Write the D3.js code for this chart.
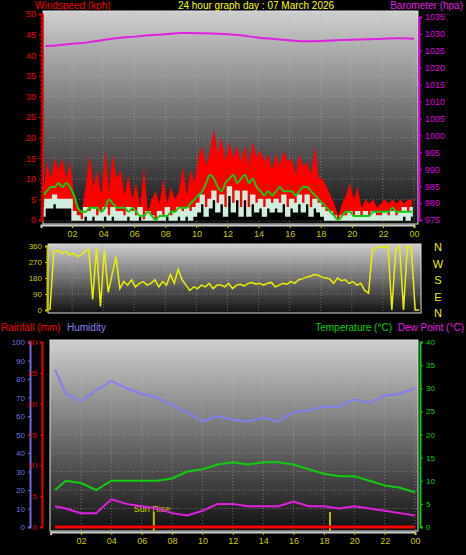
<!DOCTYPE html>
<html><head><meta charset="utf-8">
<script src="https://cdn.jsdelivr.net/npm/d3@7"></script>
<style>body{margin:0;background:#000}svg{display:block;font-family:"Liberation Sans",Arial,sans-serif}</style>
</head><body><div id="chart"></div>
<script>
var w = 466, h = 555;

// 15-minute samples, 0:00 .. 23:45
var gust = [5,14,10,15,12,15,10,14, 6,3,2,8, 16,8,12,6, 17,7,16,10, 12,6,11,5, 9,3,13,2, 5,7,4,10, 4,8,5,7,
  13,6,12,9, 15,18,13,17, 22,16,20,14, 19,15,18,14, 18,13,19,15, 17,14,16,12, 16,13,17,14, 15,11,16,13,
  14,11,18,10, 10,8,6,4, 1,4,6,9, 5,8,3,5, 4,5,3,4, 5,4,5,4, 5,4,5,5];
var speed = [3,5,5,6,5,5,5,5, 2,1,0,3, 2,3,1,2, 3,1,3,2, 2,1,3,2, 1,3,0,2, 1,0,2,1, 3,1,2,3, 2,3,2,3,
  4,6,3,5, 7,4,6,3, 8,4,7,3, 7,3,6,4, 5,3,5,4, 5,4,6,3, 5,4,6,4, 6,3,5,4, 3,2,2,1, 0,1,1,2, 1,2,1,2,
  1,2,1,1, 2,1,2,1, 2,3,2,3];
var avgWind = [6,7,8,8,9,8,9,8, 6,3,2,2, 3,3,3,2, 3,5,4,3, 3,3,2,3, 2,1,1,2, 1,0,1,1, 1,2,2,3, 3,3,4,5,
  6,7,9,11, 10,8,7,9, 10,11,9,10, 11,9,10,8, 7,6,7,6, 7,8,7,7, 7,6,7,8, 8,7,6,5, 4,3,2,1, 0,1,2,2,
  1,1,1,1, 1,2,2,2, 2,2,3,2, 2,2,2,2];
var direction = [0,330,335,320,330,310,320,300, 310,330,340,60, 350,20,340,100, 200,300,120,160,
  140,170,130,150, 160,140,150,170, 130,160,140,200, 150,230,170,140, 110,130,120,140, 130,150,120,140,
  140,130,150,120, 140,145,135,150, 155,145,150,140, 150,155,130,140, 150,145,160,150, 170,175,185,190,
  200,195,185,180, 175,150,180,165, 170,150,160,140, 150,110,95,340, 350,355,350,360, 0,340,360,0,
  360,350,0,0];

// hourly samples
var hours = [0.3,1,2,3,4,5,6,7,8,9,10,11,12,13,14,15,16,17,18,19,20,21,22,23,24];
var barometer = [1026.4,1026.6,1027.1,1027.5,1028.2,1028.8,1029.2,1029.6,1029.9,1030.3,1030.2,1030.1,1029.9,1029.5,1028.9,1028.5,1028.1,1027.8,1027.9,1028.1,1028.3,1028.4,1028.6,1028.7,1028.6];
var humidity = [85,72,68,74,79,75,72,70,66,62,57,60,58,57,59,57,62,63,65,65,69,67,71,72,75];
var temperature = [8,10,9.5,8,10,10,10,10,10.5,12,12.5,13.5,14,13.5,14,14,13.5,12.5,11.5,11,11,10,9,8.5,7.5];
var dewPoint = [4.5,4,3,3,6,5,4.5,4,3,2.5,3.5,5,5,4.5,4.5,4.5,5.5,4.5,4.5,4,4.5,4,3.5,3,2.5];
var sunTimes = [6.8, 18.4];
var timeTicks = [2,4,6,8,10,12,14,16,18,20,22,24];

var svg = d3.select("#chart").append("svg").attr("width", w).attr("height", h);
var defs = svg.append("defs");
var grad = defs.append("linearGradient").attr("id", "bg").attr("x1", 0).attr("y1", 0).attr("x2", 0).attr("y2", 1);
grad.append("stop").attr("offset", "0%").attr("stop-color", "#cfcfcf");
grad.append("stop").attr("offset", "100%").attr("stop-color", "#111");

var fmtH = (d) => d3.format("02")(d % 24);
var qTime = (d, i) => i * 0.25 + 0.125;

function panel(x0, x1, y0, y1) {
  svg.append("rect").attr("x", x0).attr("y", y0).attr("width", x1 - x0).attr("height", y1 - y0)
    .attr("fill", "url(#bg)").attr("stroke", "#ddd").attr("stroke-width", 1);
}
function grid(xs, ys, x0, x1, y0, y1) {
  var g = svg.append("g").attr("stroke", "#bbb").attr("stroke-opacity", 0.45).attr("stroke-dasharray", "1,2");
  xs.forEach((x) => g.append("line").attr("x1", x).attr("x2", x).attr("y1", y0).attr("y2", y1));
  ys.forEach((y) => g.append("line").attr("x1", x0).attr("x2", x1).attr("y1", y).attr("y2", y));
}
function styleAxis(g, color, size) {
  g.select(".domain").attr("stroke", color).attr("stroke-width", 2);
  g.selectAll("line").attr("stroke", color);
  g.selectAll("text").attr("fill", color).attr("font-size", size || 9);
}

// ---------- Top: wind + barometer
var xT = d3.scaleLinear().domain([0, 24]).range([41, 414]);
var yW = d3.scaleLinear().domain([0, 50]).range([220, 14]);
var yB = d3.scaleLinear().domain([975, 1035]).range([220, 17]);

panel(43, 418, 11, 224);
grid(timeTicks.map(xT), d3.range(5, 50, 5).map(yW), 43, 418, 11, 224);

svg.append("path").datum(gust)
  .attr("d", d3.area().x((d, i) => xT(qTime(d, i))).y0(yW(0)).y1((d) => yW(d)))
  .attr("fill", "#f00");
svg.append("path").datum(speed)
  .attr("d", d3.area().x((d, i) => xT(qTime(d, i))).y0(yW(0)).y1((d) => yW(Math.max(0, d - 2))).curve(d3.curveStep))
  .attr("fill", "#000");
svg.append("path").datum(speed)
  .attr("d", d3.area().x((d, i) => xT(qTime(d, i))).y0((d) => yW(Math.max(0, d - 2))).y1((d) => yW(d)).curve(d3.curveStep))
  .attr("fill", "#cfeedd").attr("stroke", "#cfeedd").attr("stroke-width", 1.5);
svg.append("path").datum(avgWind)
  .attr("d", d3.line().x((d, i) => xT(qTime(d, i))).y((d) => yW(d)).curve(d3.curveMonotoneX))
  .attr("fill", "none").attr("stroke", "#1c1").attr("stroke-width", 2);
svg.append("path").datum(barometer)
  .attr("d", d3.line().x((d, i) => xT(hours[i])).y((d) => yB(d)).curve(d3.curveMonotoneX))
  .attr("fill", "none").attr("stroke", "#e020e0").attr("stroke-width", 2);

var gl = svg.append("g").attr("transform", "translate(42,0)")
  .call(d3.axisLeft(yW).tickValues(d3.range(0, 51, 5)).tickSize(3));
styleAxis(gl, "#e00");
svg.append("g").attr("transform", "translate(42,0)")
  .call(d3.axisLeft(yW).ticks(50).tickSize(2).tickFormat(""))
  .call((g) => styleAxis(g, "#c00"));
var gr = svg.append("g").attr("transform", "translate(419,0)")
  .call(d3.axisRight(yB).tickValues(d3.range(975, 1036, 5)).tickSize(3).tickFormat(d3.format("d")));
styleAxis(gr, "#d0d");
var gx = svg.append("g").attr("transform", "translate(0,225)")
  .call(d3.axisBottom(xT).tickValues(timeTicks).tickSize(3).tickFormat(fmtH));
styleAxis(gx, "#cc0");
gx.select(".domain").attr("stroke", "#ccc");

svg.append("text").attr("x", 35).attr("y", 9).attr("fill", "#e00").attr("font-size", 10).text("Windspeed (kph)");
svg.append("text").attr("x", 256).attr("y", 9).attr("text-anchor", "middle").attr("fill", "#ff0").attr("font-size", 10)
  .text("24 hour graph day : 07 March 2026");
svg.append("text").attr("x", 463).attr("y", 9).attr("text-anchor", "end").attr("fill", "#e020e0").attr("font-size", 10).text("Barometer (hpa)");

// ---------- Middle: wind direction
var xD = d3.scaleLinear().domain([0, 24]).range([48, 421]);
var yD = d3.scaleLinear().domain([0, 360]).range([310, 246]);
panel(48, 421, 244, 313);
grid(timeTicks.map(xT), [90, 180, 270].map(yD), 48, 421, 244, 313);
svg.append("path").datum(direction)
  .attr("d", d3.line().x((d, i) => xD(qTime(d, i))).y((d) => yD(d)))
  .attr("fill", "none").attr("stroke", "#ee0").attr("stroke-width", 1.5);
var gd = svg.append("g").attr("transform", "translate(47,0)")
  .call(d3.axisLeft(yD).tickValues([0, 90, 180, 270, 360]).tickSize(2));
styleAxis(gd, "#cc0", 8);
["N", "W", "S", "E", "N"].forEach((t, i) => {
  svg.append("text").attr("x", 438).attr("y", 251 + i * 16.5).attr("text-anchor", "middle")
    .attr("fill", "#ee0").attr("font-size", 11).text(t);
});

// ---------- Bottom: temperature, humidity, rain
var xB = d3.scaleLinear().domain([0, 24]).range([50.6, 415]);
var yH = d3.scaleLinear().domain([0, 100]).range([527, 342]);
var yR = d3.scaleLinear().domain([0, 30]).range([527, 342]);
var yTmp = d3.scaleLinear().domain([0, 40]).range([527, 342]);
panel(50, 418, 340, 531);
grid(timeTicks.map(xB), d3.range(10, 100, 10).map(yH), 50, 418, 340, 531);

sunTimes.forEach((t) => {
  svg.append("line").attr("x1", xB(t)).attr("x2", xB(t)).attr("y1", 512).attr("y2", 531)
    .attr("stroke", "#bb0").attr("stroke-width", 2);
});
svg.append("text").attr("x", xB(sunTimes[0]) - 20).attr("y", 512).attr("fill", "#cc0").attr("font-size", 9).text("Sun Rise");

svg.append("path").datum(humidity)
  .attr("d", d3.line().x((d, i) => xB(hours[i])).y((d) => yH(d)))
  .attr("fill", "none").attr("stroke", "#8080f0").attr("stroke-width", 2);
svg.append("path").datum(temperature)
  .attr("d", d3.line().x((d, i) => xB(hours[i])).y((d) => yTmp(d)))
  .attr("fill", "none").attr("stroke", "#1c1").attr("stroke-width", 2);
svg.append("path").datum(dewPoint)
  .attr("d", d3.line().x((d, i) => xB(hours[i])).y((d) => yTmp(d)))
  .attr("fill", "none").attr("stroke", "#e020e0").attr("stroke-width", 2);
svg.append("line").attr("x1", xB(0.3)).attr("x2", xB(24)).attr("y1", yR(0)).attr("y2", yR(0))
  .attr("stroke", "#f00").attr("stroke-width", 3);

var ah = svg.append("g").attr("transform", "translate(30,0)")
  .call(d3.axisLeft(yH).tickValues(d3.range(0, 101, 10)).tickSize(2));
styleAxis(ah, "#7070e0", 8);
var ar = svg.append("g").attr("transform", "translate(42,0)")
  .call(d3.axisLeft(yR).tickValues(d3.range(0, 31, 5)).tickSize(2));
styleAxis(ar, "#e00", 8);
var at = svg.append("g").attr("transform", "translate(420,0)")
  .call(d3.axisRight(yTmp).tickValues(d3.range(0, 41, 5)).tickSize(3));
styleAxis(at, "#1c1", 8);
var ax = svg.append("g").attr("transform", "translate(0,532)")
  .call(d3.axisBottom(xB).tickValues(timeTicks).tickSize(3).tickFormat(fmtH));
styleAxis(ax, "#cc0");
ax.select(".domain").attr("stroke", "#ccc");

svg.append("text").attr("x", 1).attr("y", 331).attr("fill", "#e00").attr("font-size", 10).text("Rainfall (mm)");
svg.append("text").attr("x", 67).attr("y", 331).attr("fill", "#8080f0").attr("font-size", 10).text("Humidity");
svg.append("text").attr("x", 392).attr("y", 331).attr("text-anchor", "end").attr("fill", "#1c1").attr("font-size", 10).text("Temperature (°C)");
svg.append("text").attr("x", 464).attr("y", 331).attr("text-anchor", "end").attr("fill", "#e020e0").attr("font-size", 10).text("Dew Point (°C)");
</script></body></html>
